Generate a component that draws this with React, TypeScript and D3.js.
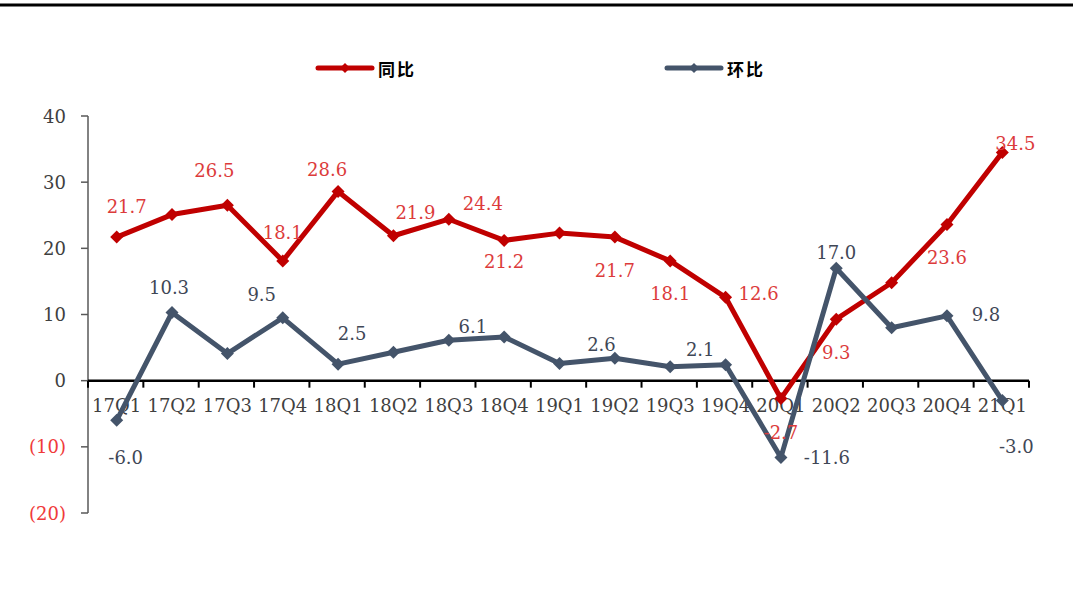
import React from "react";
import * as d3 from "d3";

// Quarterly growth, %
const quarters = [
  "17Q1", "17Q2", "17Q3", "17Q4", "18Q1", "18Q2", "18Q3", "18Q4",
  "19Q1", "19Q2", "19Q3", "19Q4", "20Q1", "20Q2", "20Q3", "20Q4", "21Q1",
];
const yoy = [21.7, 25.1, 26.5, 18.1, 28.6, 21.9, 24.4, 21.2, 22.3, 21.7, 18.1, 12.6, -2.7, 9.3, 14.8, 23.6, 34.5];
const qoq = [-6.0, 10.3, 4.1, 9.5, 2.5, 4.3, 6.1, 6.6, 2.6, 3.4, 2.1, 2.4, -11.6, 17.0, 8.0, 9.8, -3.0];
const yTicks = [40, 30, 20, 10, 0, -10, -20];
const seriesNames = ["同比", "环比"];

// Which points carry a value label, and where the label sits relative to its point (px)
const yoyLabelOffsets: [number, number, number][] = [
  [0, 10, -31], [2, -13, -35], [3, 0, -28], [4, -11, -22], [5, 22, -23],
  [6, 34, -16], [7, 0, 21], [9, 0, 33], [10, 0, 33], [11, 33, -4],
  [12, 0, 34], [13, 0, 33], [15, 0, 33], [16, 13, -9],
];
const qoqLabelOffsets: [number, number, number][] = [
  [0, 9, 37], [1, -3, -25], [3, -21, -23], [4, 14, -31], [6, 24, -14],
  [8, 42, -19], [10, 30, -17], [12, 46, 0], [13, 0, -16], [15, 39, -1],
  [16, 14, 46],
];

const W = 1073;
const H = 595;
const plot = { left: 88, right: 1029, top: 116, bottom: 513 };
const RED = "#c00000";
const BLUE = "#44546a";
const RED_TEXT = "#dc3b3b";
const BLUE_TEXT = "#3f4756";
const SERIF = "'DejaVu Serif', 'Liberation Serif', serif";
const CJK = "'Noto Sans CJK SC', 'Noto Sans', sans-serif";

const fmt = (v: number) => v.toFixed(1);
const diamond = (x: number, y: number, r: number) =>
  `M${x},${y - r}L${x + r},${y}L${x},${y + r}L${x - r},${y}Z`;

export default function App() {
  const x = d3.scaleBand<string>().domain(quarters).range([plot.left, plot.right]).padding(0);
  const cx = (q: string) => (x(q) as number) + x.bandwidth() / 2 + 1;
  const y = d3.scaleLinear().domain([-20, 40]).range([plot.bottom, plot.top]);
  const y0 = y(0);

  const line = d3
    .line<number>()
    .x((_, i) => cx(quarters[i]))
    .y((v) => y(v));

  const boundaries = quarters.map((q) => x(q) as number).concat([plot.right]);

  const series = [
    { values: yoy, color: RED, text: RED_TEXT, labels: yoyLabelOffsets },
    { values: qoq, color: BLUE, text: BLUE_TEXT, labels: qoqLabelOffsets },
  ];

  const legend = [
    { name: seriesNames[0], color: RED, x0: 318 },
    { name: seriesNames[1], color: BLUE, x0: 667 },
  ];

  return (
    <svg
      width={W}
      height={H}
      viewBox={`0 0 ${W} ${H}`}
      style={{ position: "absolute", left: 0, top: 0, background: "#fff" }}
    >
      {/* top rule */}
      <line x1={0} x2={W} y1={5} y2={5} stroke="#000" strokeWidth={3} />

      {/* legend */}
      {legend.map((l) => (
        <g key={l.name}>
          <line x1={l.x0} x2={l.x0 + 54} y1={68} y2={68} stroke={l.color} strokeWidth={5} strokeLinecap="round" />
          <path d={diamond(l.x0 + 27, 68, 5)} fill={l.color} />
          <text
            x={l.x0 + 60}
            y={68}
            dominantBaseline="central"
            fontFamily={CJK}
            fontWeight={700}
            fontSize={17}
            letterSpacing={2}
            fill="#000"
          >
            {l.name}
          </text>
        </g>
      ))}

      {/* y axis */}
      <line x1={plot.left} x2={plot.left} y1={plot.top} y2={plot.bottom} stroke="#595959" strokeWidth={1.5} />
      {yTicks.map((t) => (
        <g key={t}>
          <line x1={plot.left - 7} x2={plot.left} y1={y(t)} y2={y(t)} stroke="#595959" strokeWidth={1.5} />
          <text
            x={66}
            y={y(t)}
            textAnchor="end"
            dominantBaseline="central"
            fontFamily={SERIF}
            fontSize={18}
            fill={t < 0 ? "#f03a3a" : "#404040"}
          >
            {t < 0 ? `(${Math.abs(t)})` : t}
          </text>
        </g>
      ))}

      {/* category labels */}
      {quarters.map((q) => (
        <text
          key={q}
          x={cx(q)}
          y={412}
          textAnchor="middle"
          fontFamily={SERIF}
          fontSize={18}
          fill="#404040"
        >
          {q}
        </text>
      ))}

      {/* x axis at zero */}
      <line x1={plot.left} x2={plot.right} y1={y0} y2={y0} stroke="#000" strokeWidth={2.5} />
      {boundaries.map((b, i) => (
        <line key={i} x1={b} x2={b} y1={y0} y2={y0 + 7} stroke="#000" strokeWidth={2} />
      ))}

      {/* series lines and markers */}
      {series.map((s, si) => (
        <g key={si}>
          <path d={line(s.values) as string} fill="none" stroke={s.color} strokeWidth={5} strokeLinejoin="round" />
          {s.values.map((v, i) => (
            <path key={i} d={diamond(cx(quarters[i]), y(v), 6.5)} fill={s.color} />
          ))}
        </g>
      ))}

      {/* value labels */}
      {series.map((s, si) => (
        <g key={`lab${si}`}>
          {s.labels.map(([i, dx, dy]) => (
            <text
              key={i}
              x={cx(quarters[i]) + dx}
              y={y(s.values[i]) + dy}
              textAnchor="middle"
              dominantBaseline="central"
              fontFamily={SERIF}
              fontSize={18}
              fill={s.text}
            >
              {fmt(s.values[i])}
            </text>
          ))}
        </g>
      ))}
    </svg>
  );
}
